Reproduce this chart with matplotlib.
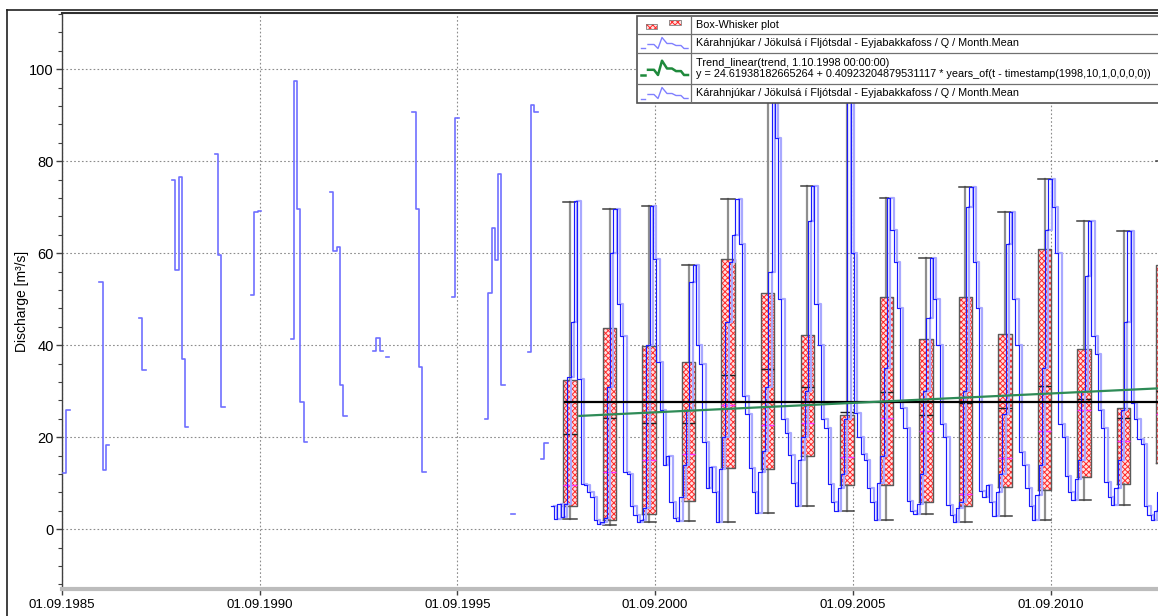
import numpy as np
import matplotlib
matplotlib.use("Agg")
import matplotlib.pyplot as plt
from matplotlib.lines import Line2D
from matplotlib.patches import Rectangle
import matplotlib.ticker as mticker

NAN = np.nan

# ---------------- data ----------------
# sparse early record of monthly mean discharge (m3/s)
early_months = ['1985-09', '1985-10',
                '1986-08', '1986-09', '1986-10',
                '1987-08', '1987-09',
                '1988-06', '1988-07', '1988-08', '1988-09', '1988-10',
                '1989-07', '1989-08', '1989-09',
                '1990-06', '1990-07', '1990-08',
                '1991-06', '1991-07', '1991-08', '1991-09', '1991-10',
                '1992-06', '1992-07', '1992-08', '1992-09', '1992-10',
                '1993-07', '1993-08', '1993-09', '1993-11',
                '1994-07', '1994-08', '1994-09', '1994-10',
                '1995-07', '1995-08',
                '1996-05', '1996-06', '1996-07', '1996-08', '1996-09', '1996-10',
                '1997-01',
                '1997-06', '1997-07', '1997-08',
                '1997-10', '1997-11']
early_values = [12.3, 25.9,
                53.7, 12.9, 18.3,
                46.0, 34.6,
                75.9, 56.3, 76.6, 37.1, 22.3,
                81.5, 59.7, 26.5,
                51.0, 68.9, 69.2,
                41.3, 97.4, 69.7, 27.7, 18.9,
                73.4, 60.5, 61.3, 31.4, 24.5,
                38.7, 41.5, 38.7, 37.5,
                90.6, 69.7, 35.3, 12.5,
                50.5, 89.3,
                23.9, 51.4, 65.4, 58.6, 77.1, 31.4,
                3.3,
                38.5, 92.3, 90.6,
                15.2, 18.7]

# continuous monthly record, Jan..Dec
q1998 = [5.1, 2.2, 5.5, 2.6, 5.5, 33.0, 45.0, 71.3, 32.7, 9.9, 9.5, 8.0]
q1999 = [7.0, 2.0, 1.2, 1.5, 2.5, 31.0, 60.0, 69.6, 49.0, 42.0, 12.4, 12.0]
q2000 = [5.0, 3.0, 1.5, 2.0, 4.5, 40.0, 70.3, 58.8, 36.3, 25.8, 14.0, 16.0]
q2001 = [6.0, 2.5, 1.7, 7.0, 14.0, 26.0, 53.7, 57.4, 40.0, 36.0, 19.0, 9.0]
q2002 = [13.5, 8.0, 1.5, 13.0, 20.0, 45.0, 58.0, 64.0, 71.8, 62.0, 29.0, 25.0]
q2003 = [13.2, 8.0, 3.5, 12.5, 17.0, 31.0, 56.0, 100.0, 85.0, 50.0, 24.0, 21.0]
q2004 = [16.2, 10.0, 5.1, 15.0, 20.0, 30.0, 67.0, 74.6, 49.0, 40.0, 24.0, 22.0]
q2005 = [9.8, 6.0, 3.9, 9.0, 12.0, 24.0, 105.0, 60.0, 25.2, 20.0, 16.4, 15.0]
q2006 = [9.0, 6.0, 2.0, 10.0, 16.0, 35.0, 72.0, 65.0, 58.0, 48.0, 26.4, 22.0]
q2007 = [6.2, 4.0, 3.2, 5.5, 12.0, 30.0, 46.0, 59.0, 50.0, 40.0, 22.8, 20.0]
q2008 = [5.3, 3.0, 1.5, 4.5, 6.0, 30.0, 70.0, 74.4, 58.0, 48.0, 8.2, 7.0]
q2009 = [9.6, 6.0, 2.8, 8.0, 12.0, 25.0, 62.0, 69.0, 50.0, 40.0, 16.8, 14.0]
q2010 = [9.0, 5.0, 1.9, 7.5, 14.0, 35.0, 65.0, 76.1, 70.0, 60.0, 22.8, 20.0]
q2011 = [11.6, 8.0, 6.4, 11.0, 15.0, 30.0, 55.0, 67.0, 42.0, 38.0, 26.0, 22.0]
q2012 = [10.2, 7.0, 5.3, 9.0, 15.0, 26.0, 45.0, 64.9, 27.5, 24.0, 19.7, 18.5]
q2013 = [5.0, 3.0, 2.0, 4.0, 8.0, 40.0]
continuous_start = 1998

# yearly box-whisker statistics
box_years = [1998, 1999, 2000, 2001, 2002, 2003, 2004, 2005,
             2006, 2007, 2008, 2009, 2010, 2011, 2012, 2013]
box_whislo = [2.2, 1.0, 1.5, 1.7, 1.5, 3.5, 5.1, 3.9, 2.0, 3.2, 1.5, 2.8, 1.9, 6.4, 5.3, 2.0]
box_q1 = [5.1, 2.0, 3.4, 6.2, 13.3, 13.0, 15.9, 9.6, 9.7, 6.0, 5.1, 9.2, 8.6, 11.4, 9.9, 14.3]
box_median = [9.6, 12.5, 15.1, 16.3, 27.0, 22.6, 23.0, 15.7, 24.2, 21.4, 7.6, 15.4, 21.4, 26.0, 19.1, 25.0]
box_mean = [20.6, 24.1, 23.0, 23.0, 33.5, 34.8, 31.0, 25.4, 29.8, 24.8, 27.5, 26.3, 31.2, 28.3, 24.1, 30.0]
box_q3 = [32.5, 43.8, 39.9, 36.4, 58.8, 51.4, 42.2, 24.8, 50.5, 41.4, 50.4, 42.4, 61.0, 39.2, 26.3, 57.5]
box_whishi = [71.2, 69.6, 70.3, 57.4, 71.8, 100.0, 74.6, 105.0, 72.0, 59.0, 74.4, 69.0, 76.1, 67.0, 64.9, 80.0]

# linear trend and overall mean
trend_intercept = 24.61938182665264
trend_slope = 0.40923204879531117
trend_origin = 1998.75          # 1.10.1998
overall_mean = 27.7
overall_mean_start = 1998.40

xtick_years = [1985, 1990, 1995, 2000, 2005, 2010]
xtick_labels = ['01.09.1985', '01.09.1990', '01.09.1995',
                '01.09.2000', '01.09.2005', '01.09.2010']
ytick_values = [0, 20, 40, 60, 80, 100]
ylabel = 'Discharge [m³/s]'

legend_labels = [
    'Box-Whisker plot',
    'Kárahnjúkar / Jökulsá í Fljótsdal - Eyjabakkafoss / Q / Month.Mean',
    'Trend_linear(trend, 1.10.1998 00:00:00)\n'
    'y = 24.61938182665264 + 0.40923204879531117 * years_of(t - timestamp(1998,10,1,0,0,0,0))',
    'Kárahnjúkar / Jökulsá í Fljótsdal - Eyjabakkafoss / Q / Month.Mean',
]

# ---------------- helpers ----------------
MONTH = 1.0 / 12.0
OFFS = 0.03


def ym(s):
    y, m = s.split('-')
    return int(y) + (int(m) - 1) / 12.0


def step_path(times, values):
    xs, ys = [], []
    for i, (t, v) in enumerate(zip(times, values)):
        if np.isnan(v):
            xs.append(NAN); ys.append(NAN)
            continue
        xs += [t, t + MONTH]
        ys += [v, v]
        if i + 1 < len(times) and abs(times[i + 1] - t - MONTH) > 1e-6:
            xs.append(NAN); ys.append(NAN)
    return np.array(xs), np.array(ys)


plt.rcParams['font.family'] = ['Liberation Sans', 'DejaVu Sans']
plt.rcParams['hatch.linewidth'] = 0.7

W, H = 1158, 616
fig = plt.figure(figsize=(W / 100, H / 100), dpi=100)
fig.patch.set_facecolor('white')

ax_l, ax_r, ax_t, ax_b = 62, 1158, 13, 589
ax = fig.add_axes([ax_l / W, 1 - ax_b / H, (ax_r - ax_l) / W, (ax_b - ax_t) / H])

x0 = 1985.0 + 8 / 12.0
x1 = x0 + (ax_r - ax_l) / 39.54
ax.set_xlim(x0, x1)
ax.set_ylim(-13.0, 112.2)

# ---- boxes ----
stats = []
for i in range(len(box_years)):
    stats.append(dict(whislo=box_whislo[i], q1=box_q1[i], med=box_median[i],
                      q3=box_q3[i], whishi=box_whishi[i], mean=box_mean[i],
                      fliers=[]))
pos = np.array(box_years) + 0.515
bw = 0.34
b1 = ax.bxp(stats, positions=pos, widths=bw, patch_artist=True, showcaps=False,
            showfliers=False, manage_ticks=False,
            boxprops=dict(facecolor='#ffe0e0', edgecolor='#ff2a2a', linewidth=0, hatch='xxxxxx'),
            whiskerprops=dict(color='#8f8f8f', linewidth=1.6),
            medianprops=dict(linewidth=0))
for p in b1['boxes']:
    p.set_zorder(2)
for w_ in b1['whiskers']:
    w_.set_zorder(2)
b2 = ax.bxp(stats, positions=pos, widths=bw, capwidths=bw, patch_artist=False,
            showmeans=True, meanline=True, showfliers=False, manage_ticks=False,
            boxprops=dict(color='#5a5a5a', linewidth=1.0),
            whiskerprops=dict(linewidth=0),
            capprops=dict(color='#404040', linewidth=1.1),
            medianprops=dict(color='#ff33ff', linewidth=1.0),
            meanprops=dict(color='#202020', linewidth=1.0, linestyle='-'))
for k in b2:
    for a in b2[k]:
        a.set_zorder(2.6)

# ---- discharge lines ----
et = [ym(s) + OFFS for s in early_months]
ex, ey = step_path(et, early_values)
ax.plot(ex, ey, color='#7070ff', lw=1.2, zorder=3)

q_all = q1998 + q1999 + q2000 + q2001 + q2002 + q2003 + q2004 + q2005 + \
    q2006 + q2007 + q2008 + q2009 + q2010 + q2011 + q2012 + q2013
ct = [continuous_start + i * MONTH + OFFS for i in range(len(q_all))]
cx, cy = step_path(ct, q_all)
ax.plot(cx + MONTH, cy, color='#a9a9ff', lw=1.6, zorder=3)
ax.plot(cx, cy, color='#1a1aff', lw=0.85, zorder=3.5)

# ---- overall mean & trend ----
ax.plot([overall_mean_start, x1 + 1], [overall_mean, overall_mean],
        color='#000000', lw=1.6, zorder=4)
tt = np.array([trend_origin, x1 + 1])
ax.plot(tt, trend_intercept + trend_slope * (tt - trend_origin),
        color='#2e8b57', lw=1.6, zorder=4.2)

# ---- axes styling ----
ax.set_xticks([y + 8 / 12.0 for y in xtick_years])
ax.set_xticklabels(xtick_labels, fontsize=9.5)
ax.set_yticks(ytick_values)
ax.set_yticklabels([str(v) for v in ytick_values], fontsize=10.5)
ax.yaxis.set_minor_locator(mticker.MultipleLocator(4))
ax.grid(True, which='major', color='#8c8c8c', linestyle=(0, (1.5, 2.0)), linewidth=0.8, zorder=1)
ax.set_axisbelow(True)
ax.tick_params(axis='y', which='major', direction='out', length=4, width=1, color='#404040', pad=2)
ax.tick_params(axis='y', which='minor', direction='out', length=3, width=0.8, color='#404040')
ax.tick_params(axis='x', which='major', direction='out', length=4, width=1, color='#404040', pad=3.5)
ax.spines['right'].set_visible(False)
ax.spines['left'].set_color('#404040')
ax.spines['left'].set_linewidth(1.0)
ax.spines['bottom'].set_color('#bcbcbc')
ax.spines['bottom'].set_linewidth(3)
ax.spines['top'].set_color('#303030')
ax.spines['top'].set_linewidth(1.5)
ax.set_ylabel(ylabel, fontsize=10)
ax.yaxis.set_label_coords(-(62 - 29) / (ax_r - ax_l), 0.5)

# ---- outer frame ----
fig.add_artist(Line2D([7 / W, 7 / W], [0, 1 - 10 / H], transform=fig.transFigure,
                      color='#202020', lw=1.2))
fig.add_artist(Line2D([7 / W, 1], [1 - 10 / H, 1 - 10 / H], transform=fig.transFigure,
                      color='#202020', lw=1.2))

# ---- legend table ----
lx0, ly0, ly1 = 637, 16, 103
lax = fig.add_axes([lx0 / W, 1 - ly1 / H, (W - lx0) / W, (ly1 - ly0) / H])
lax.set_xlim(lx0, W)
lax.set_ylim(ly1, ly0)
lax.axis('off')
lax.set_zorder(10)
lax.add_patch(Rectangle((lx0, ly0), W - lx0 + 10, ly1 - ly0, facecolor='white',
                        edgecolor='#505050', lw=1.2, clip_on=False))
for yy in [34, 53, 83.5]:
    lax.plot([lx0, W], [yy, yy], color='#707070', lw=0.9)
lax.plot([690.5, 690.5], [ly0, ly1], color='#707070', lw=0.9)

tx = 696
fs = 7.85
lax.text(tx, 25.5, legend_labels[0], fontsize=fs, va='center')
lax.text(tx, 43.5, legend_labels[1], fontsize=fs, va='center')
lax.text(tx, 68.5, legend_labels[2], fontsize=fs, va='center', linespacing=1.1)
lax.text(tx, 93.5, legend_labels[3], fontsize=fs, va='center')

# icons
lax.add_patch(Rectangle((646, 24.5), 11, 5, facecolor='#ffe0e0', edgecolor='#ff2a2a',
                        hatch='xxxxxx', lw=0))
lax.add_patch(Rectangle((646, 24.5), 11, 5, fill=False, edgecolor='#808080', lw=0.6))
lax.add_patch(Rectangle((669, 20.5), 12, 5, facecolor='#ffe0e0', edgecolor='#ff2a2a',
                        hatch='xxxxxx', lw=0))
lax.add_patch(Rectangle((669, 20.5), 12, 5, fill=False, edgecolor='#808080', lw=0.6))


def zig(yc, color, lw, scale=1.0):
    lax.plot([641, 645], [yc + 5 * scale, yc + 5 * scale], color=color, lw=lw)
    xs = [648, 654, 658, 662, 667, 672, 676, 681, 684, 688]
    ys = [1, 1, 5, -6, 0, 0, 2, 2, 5, 5]
    lax.plot(xs, [yc + v * scale for v in ys], color=color, lw=lw)


zig(43.5, '#8080ff', 1.0)
zig(68.5, '#1f8a3c', 1.8, 1.3)
zig(93.5, '#8080ff', 1.0)

fig.savefig('out.png', dpi=100)
